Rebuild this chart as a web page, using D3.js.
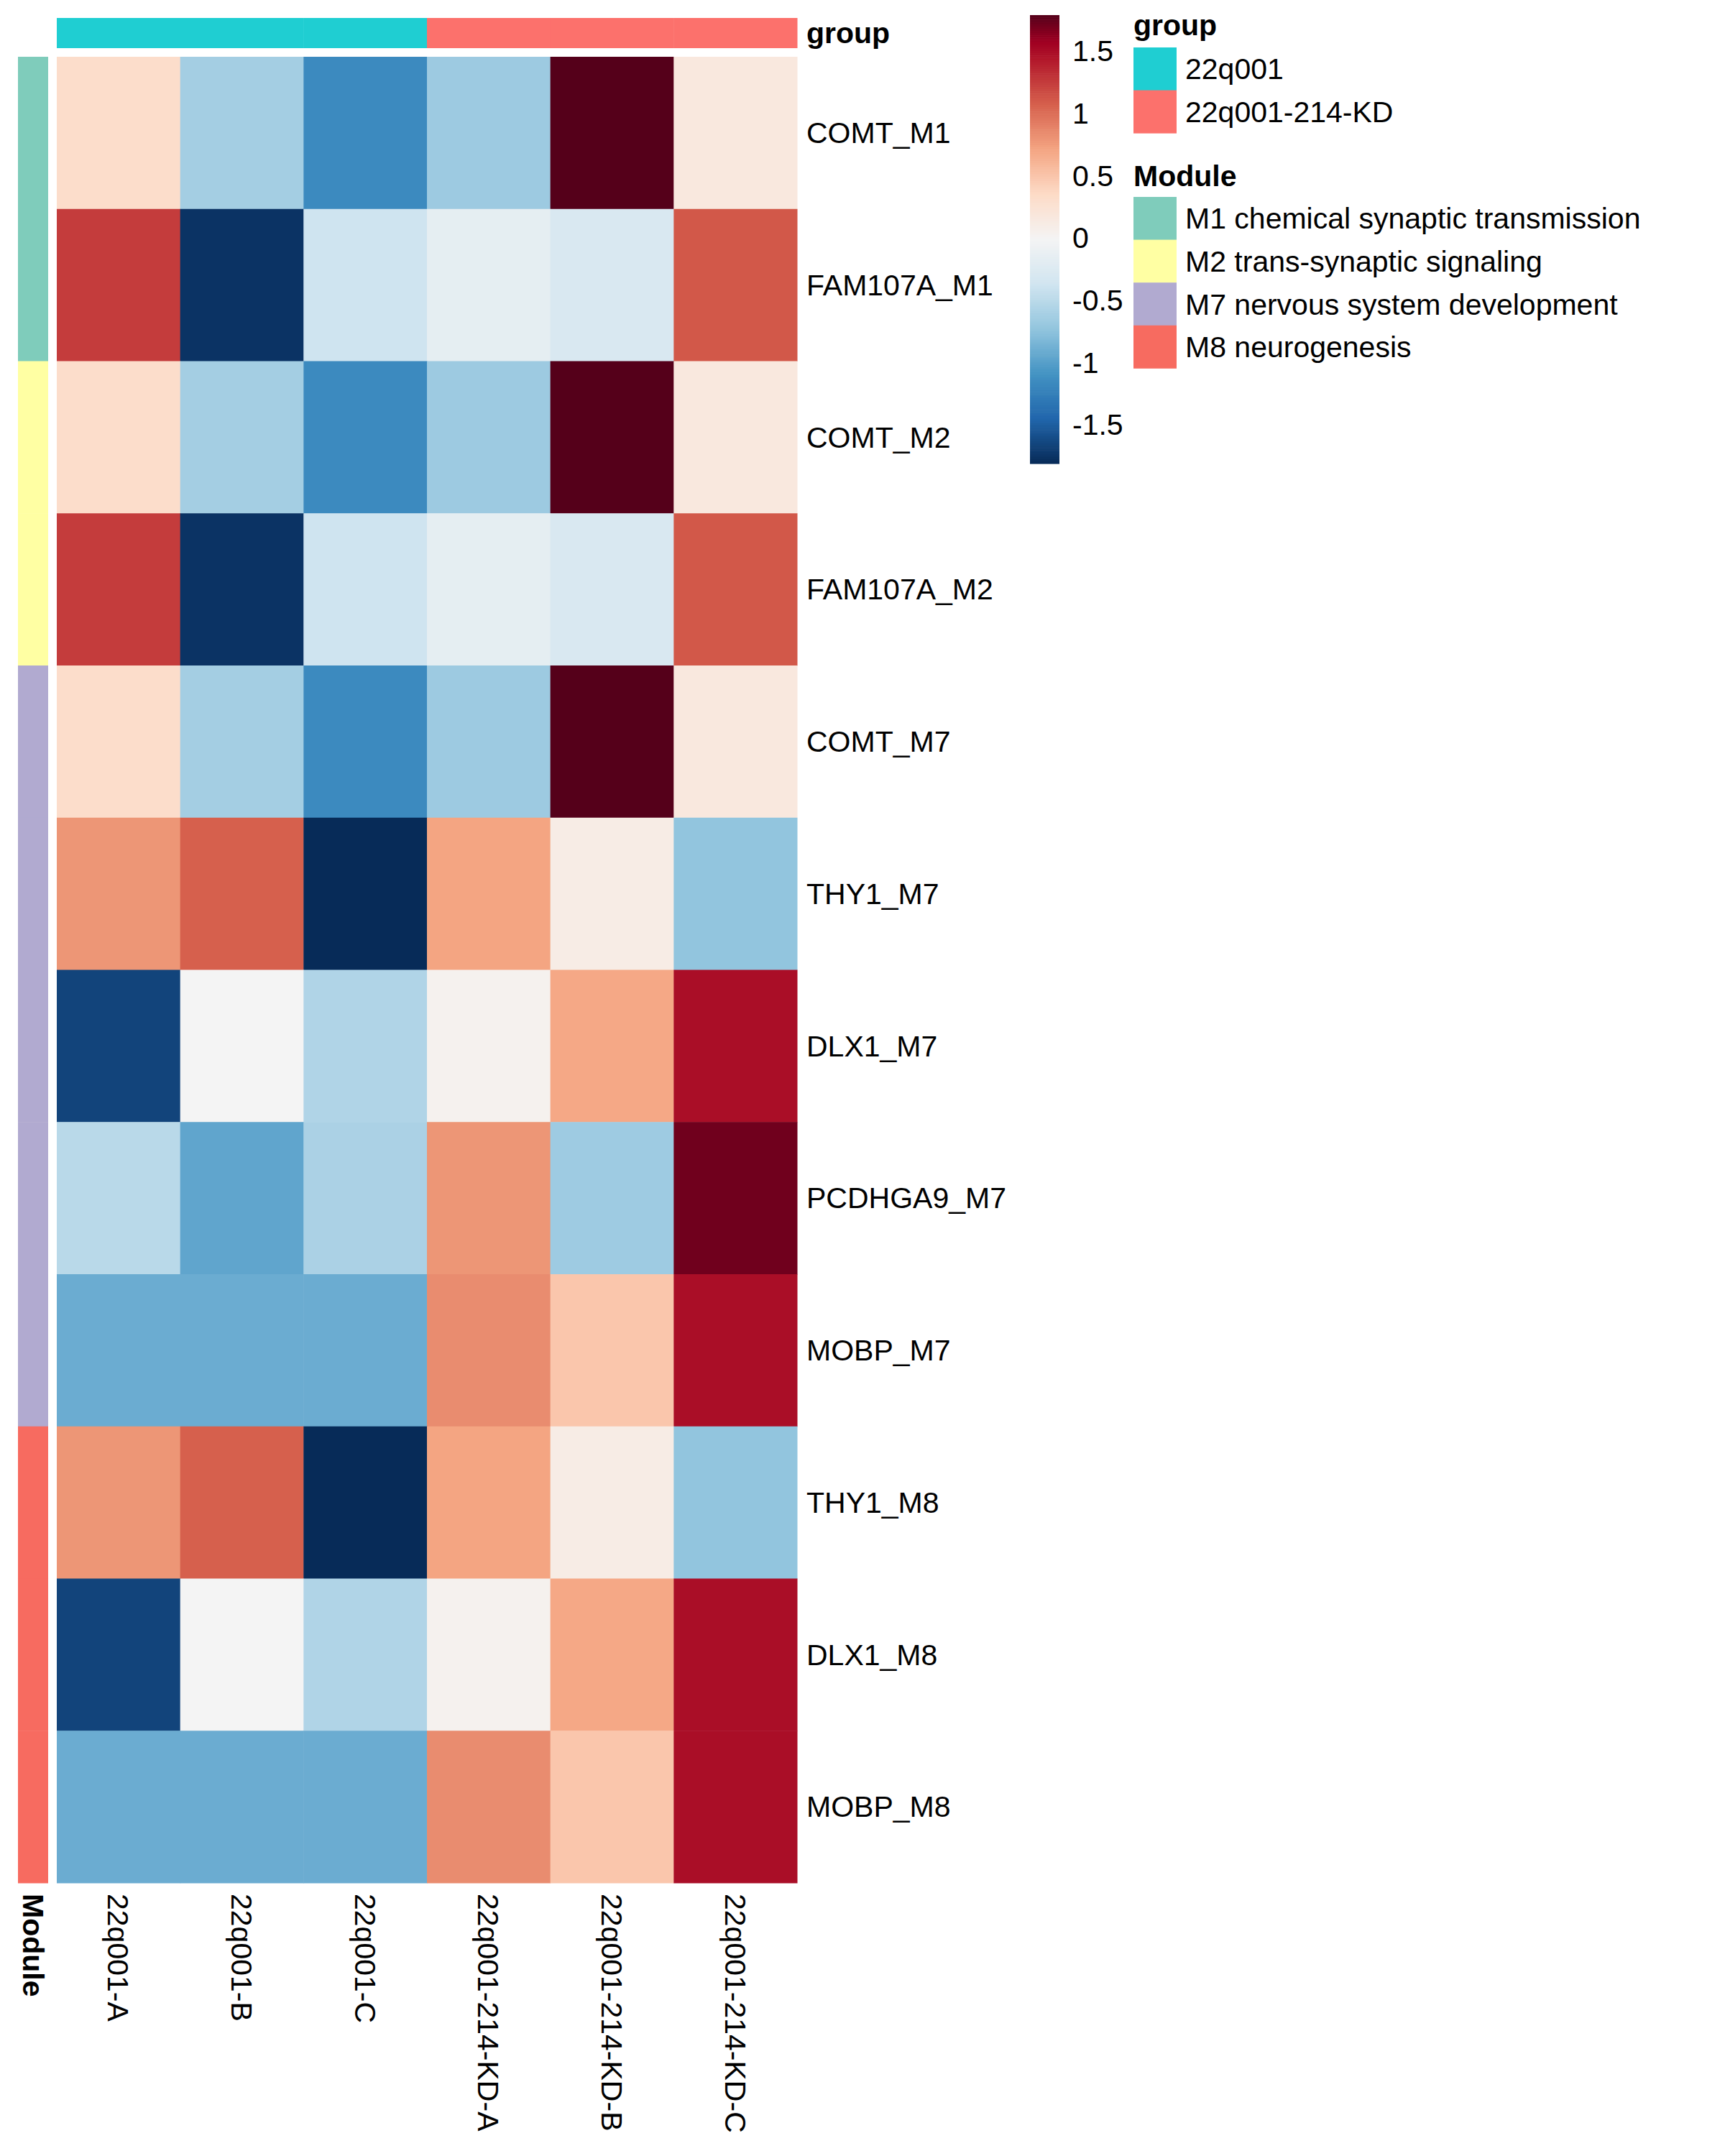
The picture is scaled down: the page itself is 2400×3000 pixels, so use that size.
<!DOCTYPE html>
<html>
<head>
<meta charset="utf-8">
<script src="https://cdn.jsdelivr.net/npm/d3@7"></script>
<style>
  body { margin: 0; background: #fff; }
  text { font-family: 'Liberation Sans', Arial, sans-serif; fill: #000; }
</style>
</head>
<body>
<div id="chart"></div>
<script>
// data

var samples = ['22q001-A', '22q001-B', '22q001-C', '22q001-214-KD-A', '22q001-214-KD-B', '22q001-214-KD-C']
var sampleGroup = ['22q001', '22q001', '22q001', '22q001-214-KD', '22q001-214-KD', '22q001-214-KD']

var rowNames = ['COMT_M1', 'FAM107A_M1', 'COMT_M2', 'FAM107A_M2', 'COMT_M7', 'THY1_M7',
  'DLX1_M7', 'PCDHGA9_M7', 'MOBP_M7', 'THY1_M8', 'DLX1_M8', 'MOBP_M8']
var rowModule = ['M1 chemical synaptic transmission', 'M1 chemical synaptic transmission',
  'M2 trans-synaptic signaling', 'M2 trans-synaptic signaling',
  'M7 nervous system development', 'M7 nervous system development', 'M7 nervous system development',
  'M7 nervous system development', 'M7 nervous system development',
  'M8 neurogenesis', 'M8 neurogenesis', 'M8 neurogenesis']

var comt = [0.33, -0.62, -1.15, -0.66, 1.8, 0.18]
var fam107a = [1.26, -1.75, -0.37, -0.15, -0.28, 1.12]
var thy1 = [0.8, 1.08, -1.8, 0.72, 0.12, -0.72]
var dlx1 = [-1.65, 0.0, -0.55, 0.05, 0.7, 1.5]
var pcdhga9 = [-0.5, -0.95, -0.58, 0.8, -0.65, 1.72]
var mobp = [-0.9, -0.9, -0.9, 0.85, 0.5, 1.5]
var values = [comt, fam107a, comt, fam107a, comt, thy1, dlx1, pcdhga9, mobp, thy1, dlx1, mobp]

var groupNames = ['22q001', '22q001-214-KD']
var groupColors = ['#1FCED2', '#FC716C']
var moduleNames = ['M1 chemical synaptic transmission', 'M2 trans-synaptic signaling',
  'M7 nervous system development', 'M8 neurogenesis']
var moduleColors = ['#7FCCBB', '#FFFFA3', '#B1AAD0', '#F76B60']
var legendTicks = [1.5, 1, 0.5, 0, -0.5, -1, -1.5]

// RdBu ramp, low to high
var rampColors = ['#072B58', '#2166AC', '#4393C3', '#92C5DE', '#D1E5F0', '#F4F4F4',
  '#FDDBC7', '#F4A582', '#D6604D', '#B2182B', '#A00022', '#55001A']

// sizes

var width = 2400
var height = 3000
var fs = 41

var svg = d3.select('#chart')
  .append('svg')
  .attr('width', width)
  .attr('height', height)

svg.append('rect').attr('width', width).attr('height', height).attr('fill', '#fff')

// scales

var xScale = d3.scaleBand().domain(d3.range(samples.length)).range([79, 1109])
var yScale = d3.scaleBand().domain(d3.range(rowNames.length)).range([79, 2620])

var lo = -1.8
var hi = 1.8
var rampDomain = [lo, -1.44, -1.08, -0.72, -0.36, 0, 0.36, 0.72, 1.08, 1.44, 1.58, hi]
var colorScale = d3.scaleLinear()
  .domain(rampDomain)
  .range(rampColors)
  .interpolate(d3.interpolateRgb)
  .clamp(true)

var groupColor = d3.scaleOrdinal().domain(groupNames).range(groupColors)
var moduleColor = d3.scaleOrdinal().domain(moduleNames).range(moduleColors)

// cells

var cells = []
values.forEach((row, i) => {
  row.forEach((v, j) => cells.push({ row: i, col: j, value: v }))
})

svg.selectAll('.cell')
  .data(cells)
  .enter()
  .append('rect')
  .attr('class', 'cell')
  .attr('x', d => xScale(d.col))
  .attr('y', d => yScale(d.row))
  .attr('width', xScale.bandwidth() + 0.5)
  .attr('height', yScale.bandwidth() + 0.5)
  .attr('fill', d => colorScale(d.value))

// group annotation along the top

svg.selectAll('.group-cell')
  .data(sampleGroup)
  .enter()
  .append('rect')
  .attr('class', 'group-cell')
  .attr('x', (d, i) => xScale(i))
  .attr('y', 25)
  .attr('width', xScale.bandwidth() + 0.5)
  .attr('height', 42)
  .attr('fill', d => groupColor(d))

svg.append('text')
  .text('group')
  .attr('x', 1122)
  .attr('y', 46)
  .attr('dy', '0.35em')
  .attr('font-size', fs)
  .attr('font-weight', 'bold')

// module annotation on the left

svg.selectAll('.module-cell')
  .data(rowModule)
  .enter()
  .append('rect')
  .attr('class', 'module-cell')
  .attr('x', 25)
  .attr('y', (d, i) => yScale(i))
  .attr('width', 42)
  .attr('height', yScale.bandwidth() + 0.5)
  .attr('fill', d => moduleColor(d))

svg.append('text')
  .text('Module')
  .attr('transform', 'translate(46,2635) rotate(90)')
  .attr('dy', '0.35em')
  .attr('font-size', fs)
  .attr('font-weight', 'bold')

// row labels

svg.selectAll('.row-label')
  .data(rowNames)
  .enter()
  .append('text')
  .attr('class', 'row-label')
  .text(d => d)
  .attr('x', 1122)
  .attr('y', (d, i) => yScale(i) + yScale.bandwidth() / 2)
  .attr('dy', '0.35em')
  .attr('font-size', fs)

// column labels, turned

svg.selectAll('.col-label')
  .data(samples)
  .enter()
  .append('text')
  .attr('class', 'col-label')
  .text(d => d)
  .attr('transform', (d, i) => 'translate(' + (xScale(i) + xScale.bandwidth() / 2) + ',2635) rotate(90)')
  .attr('dy', '0.35em')
  .attr('font-size', fs)

// colour bar

var barScale = d3.scaleLinear().domain([lo, hi]).range([645, 21])
var steps = d3.range(0, 200)
var stepH = (645 - 21) / steps.length

svg.selectAll('.bar-step')
  .data(steps)
  .enter()
  .append('rect')
  .attr('class', 'bar-step')
  .attr('x', 1433)
  .attr('y', d => 21 + d * stepH)
  .attr('width', 41)
  .attr('height', stepH + 0.6)
  .attr('fill', d => colorScale(barScale.invert(21 + (d + 0.5) * stepH)))

svg.selectAll('.bar-label')
  .data(legendTicks)
  .enter()
  .append('text')
  .attr('class', 'bar-label')
  .text(d => d)
  .attr('x', 1492)
  .attr('y', d => barScale(d) - 2)
  .attr('dy', '0.35em')
  .attr('font-size', fs)

// annotation legends

function drawLegend(title, names, colorFn, titleY, top) {
  svg.append('text')
    .text(title)
    .attr('x', 1577)
    .attr('y', titleY)
    .attr('font-size', fs)
    .attr('font-weight', 'bold')

  svg.selectAll('.key-' + title)
    .data(names)
    .enter()
    .append('rect')
    .attr('x', 1577)
    .attr('y', (d, i) => top + i * 59.6)
    .attr('width', 60)
    .attr('height', 60)
    .attr('fill', d => colorFn(d))

  svg.selectAll('.keylabel-' + title)
    .data(names)
    .enter()
    .append('text')
    .text(d => d)
    .attr('x', 1649)
    .attr('y', (d, i) => top + i * 59.6 + 30)
    .attr('dy', '0.35em')
    .attr('font-size', fs)
}

drawLegend('group', groupNames, groupColor, 49, 66)
drawLegend('Module', moduleNames, moduleColor, 259, 274)
</script>
</body>
</html>
